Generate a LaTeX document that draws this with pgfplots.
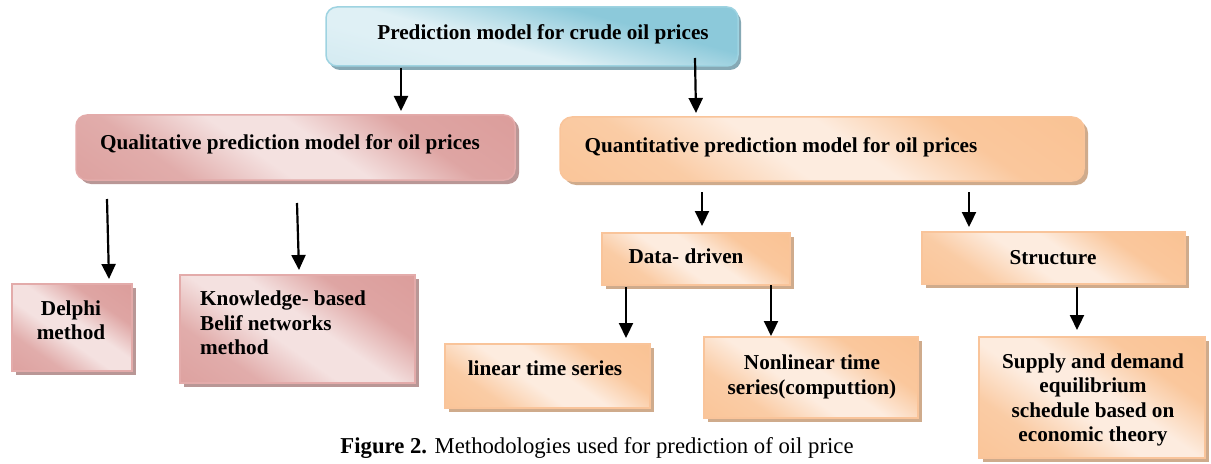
\documentclass[border=0pt]{standalone}
\usepackage{fontspec}
\setmainfont{Liberation Serif}
\usepackage{pgfplots}
\pgfplotsset{compat=1.18}
\usetikzlibrary{shadows,arrows.meta}
\definecolor{blueDark}{HTML}{8CC9DA}
\definecolor{blueLight}{HTML}{DFF0F5}
\definecolor{blueEdge}{HTML}{9ED3E1}
\definecolor{blueShadow}{HTML}{86A9B5}
\definecolor{pinkDark}{HTML}{D99694}
\definecolor{pinkLight}{HTML}{F4E1E0}
\definecolor{pinkEdge}{HTML}{E3ABAA}
\definecolor{pinkShadow}{HTML}{B99796}
\definecolor{orDark}{HTML}{F9BE8C}
\definecolor{orLight}{HTML}{FDECDF}
\definecolor{orEdge}{HTML}{F9C49A}
\definecolor{orShadow}{HTML}{CFAB8C}
\pgfdeclareverticalshading{blueshade}{100bp}{color(0bp)=(blueLight!70!blueDark); color(35bp)=(blueLight); color(44bp)=(blueLight); color(56bp)=(blueLight!40!blueDark); color(64bp)=(blueDark); color(100bp)=(blueDark)}
\pgfdeclareverticalshading{pinkshade}{100bp}{color(0bp)=(pinkDark); color(30bp)=(pinkDark!70!pinkLight); color(44bp)=(pinkLight); color(54bp)=(pinkLight); color(68bp)=(pinkDark!80!pinkLight); color(100bp)=(pinkDark)}
\pgfdeclareverticalshading{orshade}{100bp}{color(0bp)=(orDark); color(30bp)=(orDark!70!orLight); color(44bp)=(orLight); color(54bp)=(orLight); color(68bp)=(orDark!80!orLight); color(100bp)=(orDark)}
\tikzset{
  bluebox/.style={draw=blueEdge,line width=1.5bp,rounded corners=11bp,shading=blueshade,shading angle=-15,
    drop shadow={shadow xshift=3bp,shadow yshift=-4bp,fill=blueShadow,opacity=1}},
  pinkbox/.style={draw=pinkEdge,line width=1.5bp,shading=pinkshade,shading angle=-35,
    drop shadow={shadow xshift=4bp,shadow yshift=-4bp,fill=pinkShadow,opacity=1}},
  orbox/.style={draw=orEdge,line width=1.5bp,shading=orshade,shading angle=-35,
    drop shadow={shadow xshift=4bp,shadow yshift=-4bp,fill=orShadow,opacity=1}},
  arr/.style={line width=2.2bp,-{Triangle[width=14bp,length=15bp]}},
  lbl/.style={font=\fontsize{21.3}{24.5}\selectfont\bfseries,inner sep=0pt,anchor=base},
}
\begin{document}
\begin{tikzpicture}
\begin{axis}[width=1211bp,height=464bp,scale only axis,
  xmin=0,xmax=1211,ymin=0,ymax=464,y dir=reverse,hide axis,clip=false]
\path (axis cs:0,0) rectangle (axis cs:1211,464);
% boxes
\path[bluebox] (axis cs:326,7) rectangle (axis cs:738,66);
\path[pinkbox,rounded corners=11bp] (axis cs:76,115) rectangle (axis cs:515,180);
\path[orbox,rounded corners=12bp] (axis cs:560,117) rectangle (axis cs:1084,181);
\path[pinkbox] (axis cs:12,284) rectangle (axis cs:132,371);
\path[pinkbox] (axis cs:180,275) rectangle (axis cs:415,383);
\path[orbox] (axis cs:602,233) rectangle (axis cs:790,285);
\path[orbox] (axis cs:922,232) rectangle (axis cs:1185,284);
\path[orbox] (axis cs:445,344) rectangle (axis cs:650,408);
\path[orbox] (axis cs:704,337) rectangle (axis cs:918,418);
\path[orbox] (axis cs:979,337) rectangle (axis cs:1205,458);
% arrows
\draw[arr] (axis cs:401,68) -- (axis cs:401,111);
\draw[arr] (axis cs:695,58) -- (axis cs:696,113);
\draw[arr] (axis cs:107,199) -- (axis cs:109,279);
\draw[arr] (axis cs:297,203) -- (axis cs:299,270);
\draw[arr] (axis cs:702,192) -- (axis cs:702,226);
\draw[arr] (axis cs:969,192) -- (axis cs:969,227);
\draw[arr] (axis cs:626,287) -- (axis cs:626,338);
\draw[arr] (axis cs:771,285) -- (axis cs:771,336);
\draw[arr] (axis cs:1077,287) -- (axis cs:1077,330);
% labels
\node[lbl] at (axis cs:543,40) {Prediction model for crude oil prices};
\node[lbl] at (axis cs:290,149) {Qualitative prediction model for oil prices};
\node[lbl] at (axis cs:781,152) {Quantitative prediction model for oil prices};
\node[lbl] at (axis cs:686,263) {Data- driven};
\node[lbl] at (axis cs:1053,264) {Structure};
\node[lbl] at (axis cs:71,315) {Delphi};
\node[lbl] at (axis cs:71,339) {method};
\node[lbl,anchor=base west] at (axis cs:200,305) {Knowledge- based};
\node[lbl,anchor=base west] at (axis cs:200,330) {Belif networks};
\node[lbl,anchor=base west] at (axis cs:200,354) {method};
\node[lbl] at (axis cs:545,375) {linear time series};
\node[lbl] at (axis cs:812,369) {Nonlinear time};
\node[lbl] at (axis cs:812,394) {series(computtion)};
\node[lbl] at (axis cs:1093,368) {Supply and demand};
\node[lbl] at (axis cs:1093,392) {equilibrium};
\node[lbl] at (axis cs:1093,417) {schedule based on};
\node[lbl] at (axis cs:1093,441) {economic theory};
\node[font=\fontsize{22.8}{26}\selectfont,inner sep=0pt,anchor=base] at (axis cs:597,453) {\textbf{Figure 2.} Methodologies used for prediction of oil price};
\end{axis}
\end{tikzpicture}
\end{document}
